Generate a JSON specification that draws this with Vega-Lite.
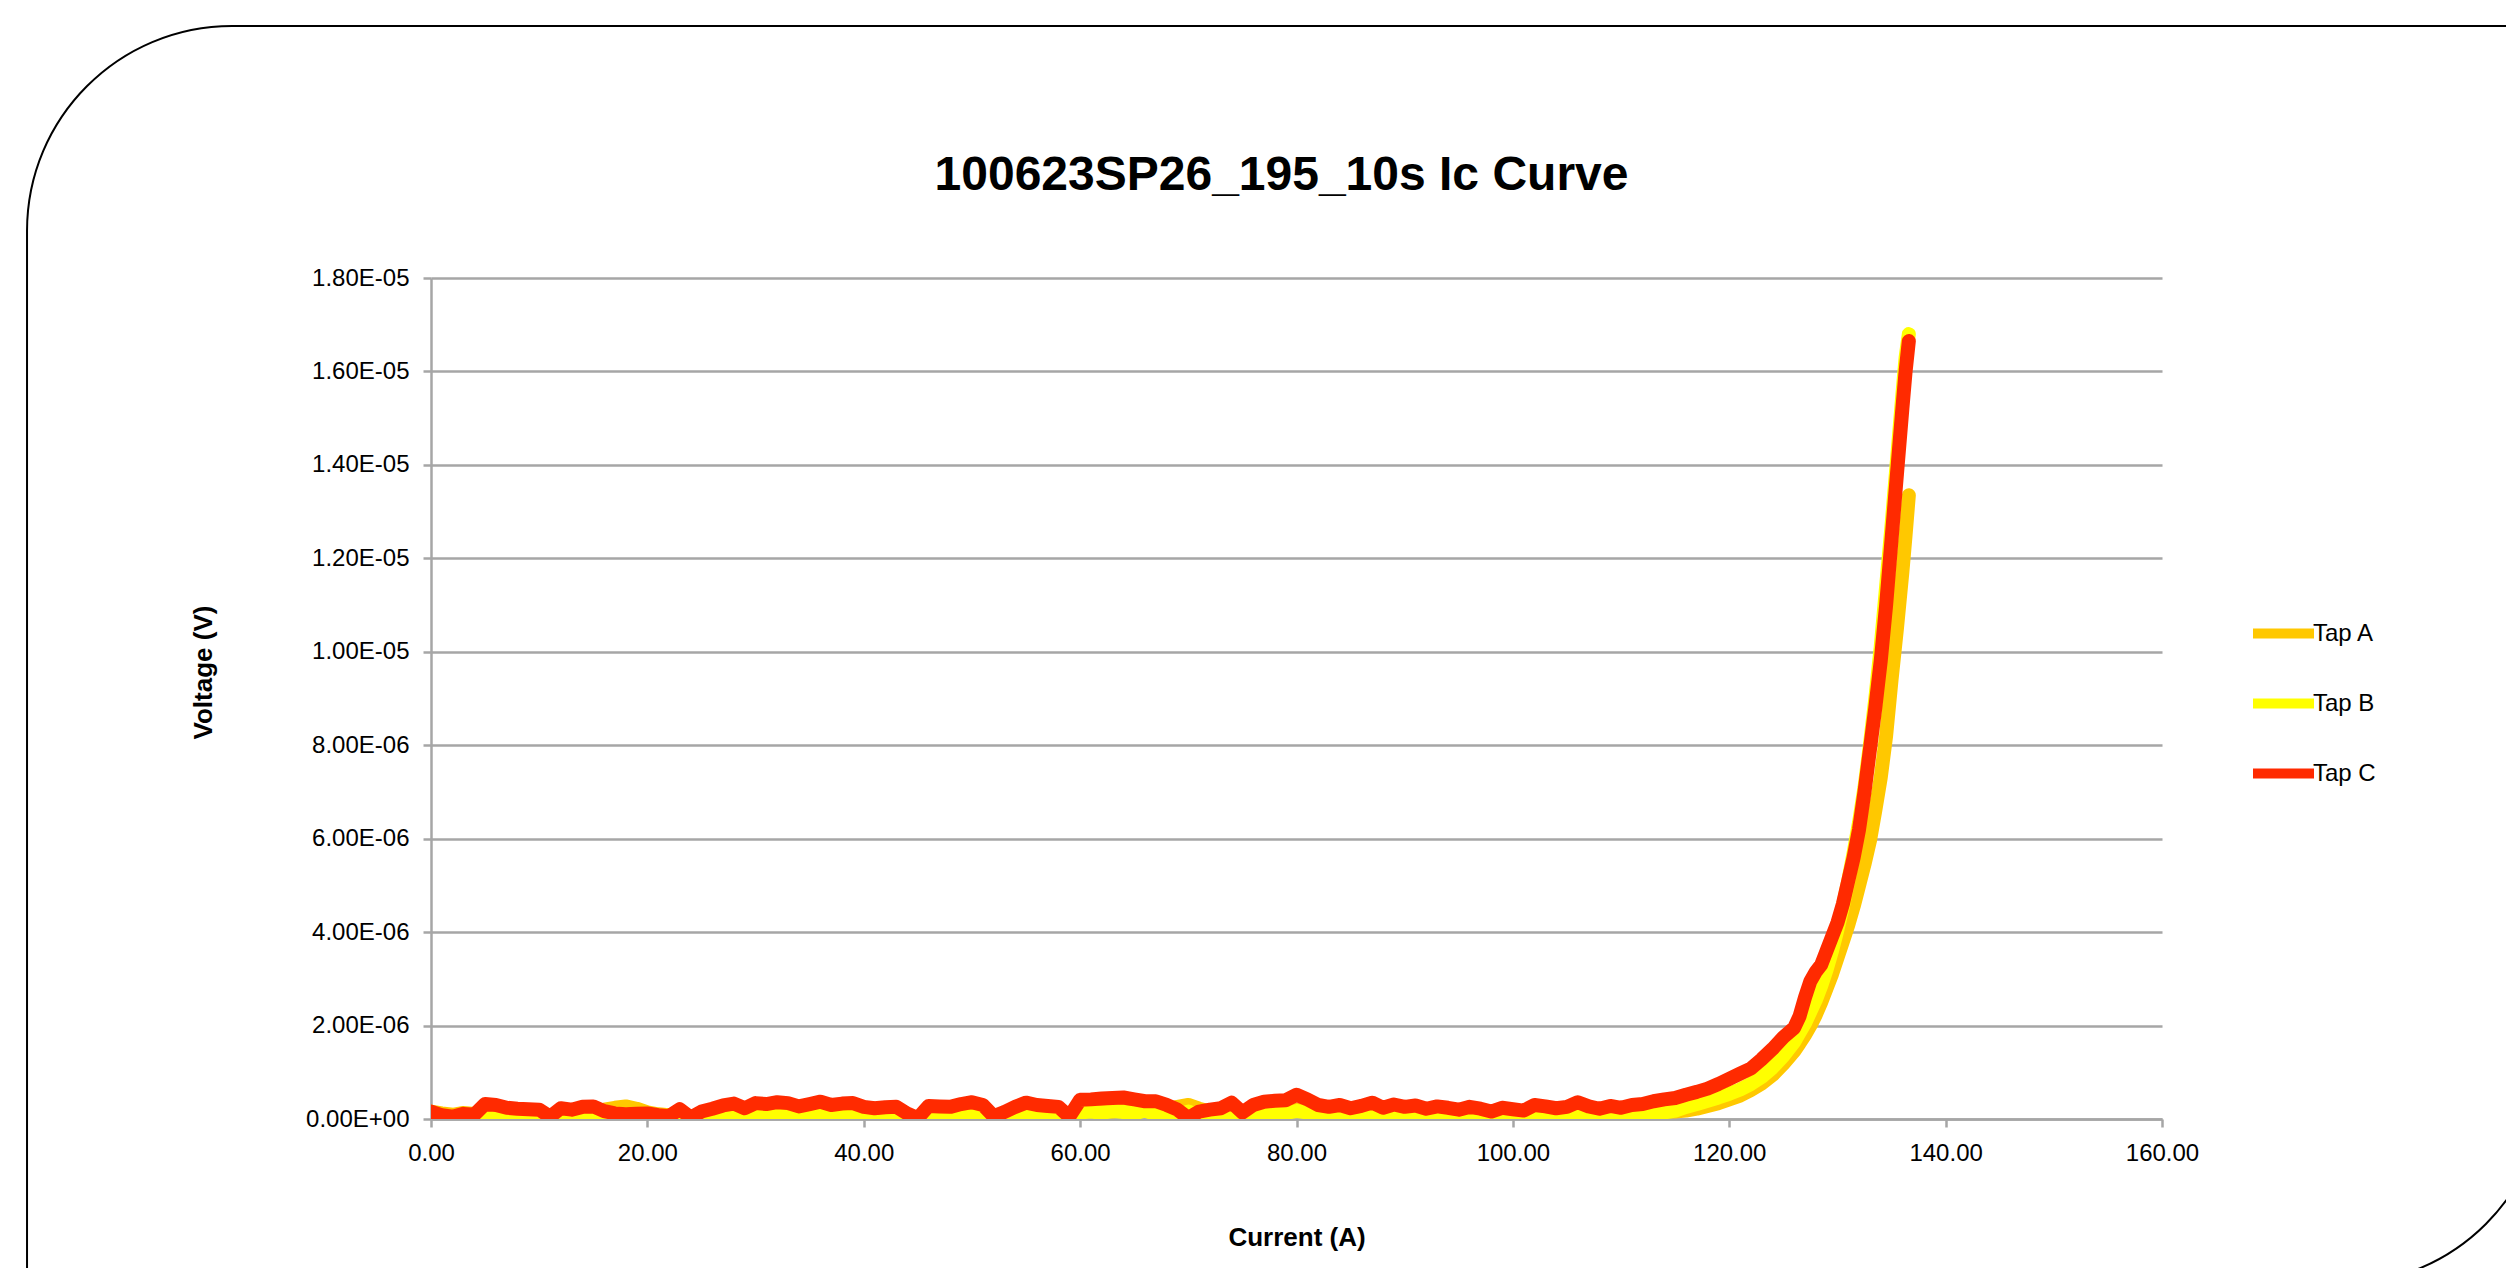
{
"$schema":"https://vega.github.io/schema/vega-lite/v6.json",
"width":1731,"height":841,
"autosize":{"type":"none"},
"padding":{"left":431,"top":278,"right":344,"bottom":149},
"background":"white",
"config":{"view":{"stroke":null},"font":"Liberation Sans"},
"title":{"text":"100623SP26_195_10s Ic Curve","font":"Liberation Sans","fontSize":48,"fontWeight":"bold","color":"black","anchor":"middle","frame":"bounds","baseline":"alphabetic","offset":-213,"dx":-5},
"data":{"values":[
{"I":0,"tap":"Tap A","V":1.6e-7},{"I":1,"tap":"Tap A","V":1.2e-7},{"I":2,"tap":"Tap A","V":0.9e-7},{"I":3,"tap":"Tap A","V":1.3e-7},{"I":4,"tap":"Tap A","V":1.1e-7},{"I":5,"tap":"Tap A","V":1.8e-7},{"I":6,"tap":"Tap A","V":1.6e-7},{"I":7,"tap":"Tap A","V":1.2e-7},{"I":8,"tap":"Tap A","V":1.5e-7},{"I":9,"tap":"Tap A","V":1.3e-7},
{"I":10,"tap":"Tap A","V":1.4e-7},{"I":11,"tap":"Tap A","V":0.5e-7},{"I":12,"tap":"Tap A","V":1.4e-7},{"I":13,"tap":"Tap A","V":1.7e-7},{"I":14,"tap":"Tap A","V":1.3e-7},{"I":15,"tap":"Tap A","V":1.8e-7},{"I":16,"tap":"Tap A","V":2.0e-7},{"I":17,"tap":"Tap A","V":2.4e-7},{"I":18,"tap":"Tap A","V":2.7e-7},{"I":19,"tap":"Tap A","V":2.2e-7},
{"I":20,"tap":"Tap A","V":1.4e-7},{"I":21,"tap":"Tap A","V":1.0e-7},{"I":22,"tap":"Tap A","V":0.8e-7},{"I":23,"tap":"Tap A","V":1.2e-7},{"I":24,"tap":"Tap A","V":0.5e-7},{"I":25,"tap":"Tap A","V":1.0e-7},{"I":26,"tap":"Tap A","V":1.5e-7},{"I":27,"tap":"Tap A","V":1.3e-7},{"I":28,"tap":"Tap A","V":1.6e-7},{"I":29,"tap":"Tap A","V":1.4e-7},
{"I":30,"tap":"Tap A","V":1.2e-7},{"I":31,"tap":"Tap A","V":1.8e-7},{"I":32,"tap":"Tap A","V":1.5e-7},{"I":33,"tap":"Tap A","V":1.2e-7},{"I":34,"tap":"Tap A","V":1.6e-7},{"I":35,"tap":"Tap A","V":1.4e-7},{"I":36,"tap":"Tap A","V":1.1e-7},{"I":37,"tap":"Tap A","V":1.5e-7},{"I":38,"tap":"Tap A","V":1.3e-7},{"I":39,"tap":"Tap A","V":1.6e-7},
{"I":40,"tap":"Tap A","V":1.2e-7},{"I":41,"tap":"Tap A","V":0.9e-7},{"I":42,"tap":"Tap A","V":1.3e-7},{"I":43,"tap":"Tap A","V":1.5e-7},{"I":44,"tap":"Tap A","V":0.8e-7},{"I":45,"tap":"Tap A","V":0.3e-7},{"I":46,"tap":"Tap A","V":1.2e-7},{"I":47,"tap":"Tap A","V":1.5e-7},{"I":48,"tap":"Tap A","V":1.0e-7},{"I":49,"tap":"Tap A","V":1.3e-7},
{"I":50,"tap":"Tap A","V":1.6e-7},{"I":51,"tap":"Tap A","V":1.2e-7},{"I":52,"tap":"Tap A","V":0.4e-7},{"I":53,"tap":"Tap A","V":1.0e-7},{"I":54,"tap":"Tap A","V":1.3e-7},{"I":55,"tap":"Tap A","V":1.5e-7},{"I":56,"tap":"Tap A","V":1.1e-7},{"I":57,"tap":"Tap A","V":1.4e-7},{"I":58,"tap":"Tap A","V":1.2e-7},{"I":59,"tap":"Tap A","V":0.2e-7},
{"I":60,"tap":"Tap A","V":1.8e-7},{"I":61,"tap":"Tap A","V":2.2e-7},{"I":62,"tap":"Tap A","V":1.9e-7},{"I":63,"tap":"Tap A","V":1.6e-7},{"I":64,"tap":"Tap A","V":2.4e-7},{"I":65,"tap":"Tap A","V":2.2e-7},{"I":66,"tap":"Tap A","V":2.6e-7},{"I":67,"tap":"Tap A","V":2.4e-7},{"I":68,"tap":"Tap A","V":2.0e-7},{"I":69,"tap":"Tap A","V":2.6e-7},
{"I":70,"tap":"Tap A","V":3.0e-7},{"I":71,"tap":"Tap A","V":2.2e-7},{"I":72,"tap":"Tap A","V":1.6e-7},{"I":73,"tap":"Tap A","V":1.4e-7},{"I":74,"tap":"Tap A","V":1.8e-7},{"I":75,"tap":"Tap A","V":1.2e-7},{"I":76,"tap":"Tap A","V":1.2e-7},{"I":77,"tap":"Tap A","V":1.6e-7},{"I":78,"tap":"Tap A","V":1.9e-7},{"I":79,"tap":"Tap A","V":1.4e-7},
{"I":80,"tap":"Tap A","V":2.0e-7},{"I":81,"tap":"Tap A","V":1.6e-7},{"I":82,"tap":"Tap A","V":1.3e-7},{"I":83,"tap":"Tap A","V":1.5e-7},{"I":84,"tap":"Tap A","V":1.1e-7},{"I":85,"tap":"Tap A","V":1.4e-7},{"I":86,"tap":"Tap A","V":1.6e-7},{"I":87,"tap":"Tap A","V":1.2e-7},{"I":88,"tap":"Tap A","V":1.5e-7},{"I":89,"tap":"Tap A","V":1.0e-7},
{"I":90,"tap":"Tap A","V":1.4e-7},{"I":91,"tap":"Tap A","V":1.2e-7},{"I":92,"tap":"Tap A","V":1.6e-7},{"I":93,"tap":"Tap A","V":1.1e-7},{"I":94,"tap":"Tap A","V":1.3e-7},{"I":95,"tap":"Tap A","V":1.5e-7},{"I":96,"tap":"Tap A","V":1.0e-7},{"I":97,"tap":"Tap A","V":1.3e-7},{"I":98,"tap":"Tap A","V":1.1e-7},{"I":99,"tap":"Tap A","V":1.4e-7},
{"I":100,"tap":"Tap A","V":1.2e-7},{"I":101,"tap":"Tap A","V":1.5e-7},{"I":102,"tap":"Tap A","V":1.0e-7},{"I":103,"tap":"Tap A","V":1.3e-7},{"I":104,"tap":"Tap A","V":1.6e-7},{"I":105,"tap":"Tap A","V":1.2e-7},{"I":106,"tap":"Tap A","V":1.4e-7},{"I":107,"tap":"Tap A","V":1.1e-7},{"I":108,"tap":"Tap A","V":1.3e-7},{"I":109,"tap":"Tap A","V":1.0e-7},
{"I":110,"tap":"Tap A","V":1.4e-7},{"I":111,"tap":"Tap A","V":1.2e-7},{"I":112,"tap":"Tap A","V":1.5e-7},{"I":113,"tap":"Tap A","V":1.3e-7},{"I":114,"tap":"Tap A","V":1.6e-7},{"I":115,"tap":"Tap A","V":1.6e-7},{"I":116,"tap":"Tap A","V":1.8e-7},{"I":117,"tap":"Tap A","V":2.2e-7},{"I":118,"tap":"Tap A","V":2.8e-7},{"I":119,"tap":"Tap A","V":3.4e-7},
{"I":120,"tap":"Tap A","V":4.2e-7},{"I":121,"tap":"Tap A","V":5.0e-7},{"I":122,"tap":"Tap A","V":6.2e-7},{"I":123,"tap":"Tap A","V":7.6e-7},{"I":124,"tap":"Tap A","V":9.4e-7},{"I":125,"tap":"Tap A","V":11.8e-7},{"I":126,"tap":"Tap A","V":14.5e-7},{"I":126.5,"tap":"Tap A","V":16.2e-7},{"I":127,"tap":"Tap A","V":18e-7},{"I":127.5,"tap":"Tap A","V":20e-7},
{"I":128,"tap":"Tap A","V":22.3e-7},{"I":128.5,"tap":"Tap A","V":25e-7},{"I":129,"tap":"Tap A","V":28e-7},{"I":129.5,"tap":"Tap A","V":31e-7},{"I":130,"tap":"Tap A","V":34.5e-7},{"I":130.5,"tap":"Tap A","V":38e-7},{"I":131,"tap":"Tap A","V":41.5e-7},{"I":131.5,"tap":"Tap A","V":45.5e-7},{"I":132,"tap":"Tap A","V":50e-7},{"I":132.5,"tap":"Tap A","V":54.5e-7},
{"I":133,"tap":"Tap A","V":59.5e-7},{"I":133.5,"tap":"Tap A","V":66e-7},{"I":134,"tap":"Tap A","V":73e-7},{"I":134.5,"tap":"Tap A","V":82e-7},{"I":135,"tap":"Tap A","V":94e-7},{"I":135.5,"tap":"Tap A","V":105e-7},{"I":136,"tap":"Tap A","V":117e-7},{"I":136.3,"tap":"Tap A","V":125e-7},{"I":136.6,"tap":"Tap A","V":133.5e-7},

{"I":0,"tap":"Tap B","V":0.5e-7},{"I":1,"tap":"Tap B","V":-0.3e-7},{"I":2,"tap":"Tap B","V":0.2e-7},{"I":3,"tap":"Tap B","V":0.0},{"I":4,"tap":"Tap B","V":0.6e-7},{"I":5,"tap":"Tap B","V":1.2e-7},{"I":6,"tap":"Tap B","V":0.8e-7},{"I":7,"tap":"Tap B","V":0.4e-7},{"I":8,"tap":"Tap B","V":0.9e-7},{"I":9,"tap":"Tap B","V":0.3e-7},
{"I":10,"tap":"Tap B","V":0.7e-7},{"I":11,"tap":"Tap B","V":-0.3e-7},{"I":12,"tap":"Tap B","V":0.5e-7},{"I":13,"tap":"Tap B","V":0.9e-7},{"I":14,"tap":"Tap B","V":0.4e-7},{"I":15,"tap":"Tap B","V":1.0e-7},{"I":16,"tap":"Tap B","V":0.6e-7},{"I":17,"tap":"Tap B","V":1.2e-7},{"I":18,"tap":"Tap B","V":1.0e-7},{"I":19,"tap":"Tap B","V":0.5e-7},
{"I":20,"tap":"Tap B","V":0.2e-7},{"I":21,"tap":"Tap B","V":-0.2e-7},{"I":22,"tap":"Tap B","V":0.0},{"I":23,"tap":"Tap B","V":0.4e-7},{"I":24,"tap":"Tap B","V":-0.5e-7},{"I":25,"tap":"Tap B","V":-0.3e-7},{"I":26,"tap":"Tap B","V":0.5e-7},{"I":27,"tap":"Tap B","V":1.0e-7},{"I":28,"tap":"Tap B","V":0.8e-7},{"I":29,"tap":"Tap B","V":0.6e-7},
{"I":30,"tap":"Tap B","V":1.2e-7},{"I":31,"tap":"Tap B","V":0.9e-7},{"I":32,"tap":"Tap B","V":1.3e-7},{"I":33,"tap":"Tap B","V":0.8e-7},{"I":34,"tap":"Tap B","V":1.1e-7},{"I":35,"tap":"Tap B","V":1.4e-7},{"I":36,"tap":"Tap B","V":0.9e-7},{"I":37,"tap":"Tap B","V":0.7e-7},{"I":38,"tap":"Tap B","V":1.1e-7},{"I":39,"tap":"Tap B","V":0.6e-7},
{"I":40,"tap":"Tap B","V":0.8e-7},{"I":41,"tap":"Tap B","V":0.5e-7},{"I":42,"tap":"Tap B","V":0.2e-7},{"I":43,"tap":"Tap B","V":0.9e-7},{"I":44,"tap":"Tap B","V":0.2e-7},{"I":45,"tap":"Tap B","V":-0.5e-7},{"I":46,"tap":"Tap B","V":1.0e-7},{"I":47,"tap":"Tap B","V":0.5e-7},{"I":48,"tap":"Tap B","V":0.9e-7},{"I":49,"tap":"Tap B","V":0.7e-7},
{"I":50,"tap":"Tap B","V":0.4e-7},{"I":51,"tap":"Tap B","V":0.8e-7},{"I":52,"tap":"Tap B","V":-0.5e-7},{"I":53,"tap":"Tap B","V":0.6e-7},{"I":54,"tap":"Tap B","V":0.3e-7},{"I":55,"tap":"Tap B","V":0.8e-7},{"I":56,"tap":"Tap B","V":1.1e-7},{"I":57,"tap":"Tap B","V":0.6e-7},{"I":58,"tap":"Tap B","V":0.8e-7},{"I":59,"tap":"Tap B","V":-0.8e-7},
{"I":60,"tap":"Tap B","V":1.4e-7},{"I":61,"tap":"Tap B","V":1.6e-7},{"I":62,"tap":"Tap B","V":1.3e-7},{"I":63,"tap":"Tap B","V":1.7e-7},{"I":64,"tap":"Tap B","V":1.5e-7},{"I":65,"tap":"Tap B","V":1.2e-7},{"I":66,"tap":"Tap B","V":1.8e-7},{"I":67,"tap":"Tap B","V":1.0e-7},{"I":68,"tap":"Tap B","V":1.3e-7},{"I":69,"tap":"Tap B","V":0.8e-7},
{"I":70,"tap":"Tap B","V":1.6e-7},{"I":71,"tap":"Tap B","V":0.6e-7},{"I":72,"tap":"Tap B","V":0.9e-7},{"I":73,"tap":"Tap B","V":0.7e-7},{"I":74,"tap":"Tap B","V":1.0e-7},{"I":75,"tap":"Tap B","V":0.2e-7},{"I":76,"tap":"Tap B","V":0.7e-7},{"I":77,"tap":"Tap B","V":1.1e-7},{"I":78,"tap":"Tap B","V":1.4e-7},{"I":79,"tap":"Tap B","V":1.3e-7},
{"I":80,"tap":"Tap B","V":1.7e-7},{"I":81,"tap":"Tap B","V":1.4e-7},{"I":82,"tap":"Tap B","V":1.0e-7},{"I":83,"tap":"Tap B","V":0.8e-7},{"I":84,"tap":"Tap B","V":1.0e-7},{"I":85,"tap":"Tap B","V":0.6e-7},{"I":86,"tap":"Tap B","V":0.9e-7},{"I":87,"tap":"Tap B","V":1.2e-7},{"I":88,"tap":"Tap B","V":0.7e-7},{"I":89,"tap":"Tap B","V":1.0e-7},
{"I":90,"tap":"Tap B","V":0.8e-7},{"I":91,"tap":"Tap B","V":1.0e-7},{"I":92,"tap":"Tap B","V":0.6e-7},{"I":93,"tap":"Tap B","V":0.9e-7},{"I":94,"tap":"Tap B","V":0.7e-7},{"I":95,"tap":"Tap B","V":0.5e-7},{"I":96,"tap":"Tap B","V":0.8e-7},{"I":97,"tap":"Tap B","V":0.6e-7},{"I":98,"tap":"Tap B","V":0.3e-7},{"I":99,"tap":"Tap B","V":0.7e-7},
{"I":100,"tap":"Tap B","V":0.5e-7},{"I":101,"tap":"Tap B","V":0.4e-7},{"I":102,"tap":"Tap B","V":0.9e-7},{"I":103,"tap":"Tap B","V":0.8e-7},{"I":104,"tap":"Tap B","V":0.6e-7},{"I":105,"tap":"Tap B","V":0.8e-7},{"I":106,"tap":"Tap B","V":1.2e-7},{"I":107,"tap":"Tap B","V":0.8e-7},{"I":108,"tap":"Tap B","V":0.6e-7},{"I":109,"tap":"Tap B","V":0.9e-7},
{"I":110,"tap":"Tap B","V":0.7e-7},{"I":111,"tap":"Tap B","V":1.0e-7},{"I":112,"tap":"Tap B","V":0.9e-7},{"I":113,"tap":"Tap B","V":1.2e-7},{"I":114,"tap":"Tap B","V":1.4e-7},{"I":115,"tap":"Tap B","V":1.8e-7},{"I":116,"tap":"Tap B","V":2.6e-7},{"I":117,"tap":"Tap B","V":3.2e-7},{"I":118,"tap":"Tap B","V":3.9e-7},{"I":119,"tap":"Tap B","V":4.6e-7},
{"I":120,"tap":"Tap B","V":5.4e-7},{"I":121,"tap":"Tap B","V":6.3e-7},{"I":122,"tap":"Tap B","V":7.5e-7},{"I":123,"tap":"Tap B","V":9.0e-7},{"I":124,"tap":"Tap B","V":11.0e-7},{"I":125,"tap":"Tap B","V":13.5e-7},{"I":126,"tap":"Tap B","V":16.5e-7},{"I":126.5,"tap":"Tap B","V":18.5e-7},{"I":127,"tap":"Tap B","V":20.5e-7},{"I":127.5,"tap":"Tap B","V":23e-7},
{"I":128,"tap":"Tap B","V":25.5e-7},{"I":128.5,"tap":"Tap B","V":28.5e-7},{"I":129,"tap":"Tap B","V":32e-7},{"I":129.5,"tap":"Tap B","V":36e-7},{"I":130,"tap":"Tap B","V":40.5e-7},{"I":130.5,"tap":"Tap B","V":45.5e-7},{"I":131,"tap":"Tap B","V":51e-7},{"I":131.5,"tap":"Tap B","V":57e-7},{"I":132,"tap":"Tap B","V":63.5e-7},{"I":132.5,"tap":"Tap B","V":71e-7},
{"I":133,"tap":"Tap B","V":80e-7},{"I":133.5,"tap":"Tap B","V":90e-7},{"I":134,"tap":"Tap B","V":101e-7},{"I":134.5,"tap":"Tap B","V":114e-7},{"I":135,"tap":"Tap B","V":127e-7},{"I":135.5,"tap":"Tap B","V":141e-7},{"I":136,"tap":"Tap B","V":155e-7},{"I":136.3,"tap":"Tap B","V":163e-7},{"I":136.6,"tap":"Tap B","V":168e-7},

{"I":0,"tap":"Tap C","V":1.6e-7},{"I":1,"tap":"Tap C","V":0.8e-7},{"I":2,"tap":"Tap C","V":0.5e-7},{"I":3,"tap":"Tap C","V":1.1e-7},{"I":4,"tap":"Tap C","V":0.9e-7},{"I":5,"tap":"Tap C","V":3.2e-7},{"I":6,"tap":"Tap C","V":3.0e-7},{"I":7,"tap":"Tap C","V":2.4e-7},{"I":8,"tap":"Tap C","V":2.2e-7},{"I":9,"tap":"Tap C","V":2.1e-7},
{"I":10,"tap":"Tap C","V":2.0e-7},{"I":11,"tap":"Tap C","V":0.5e-7},{"I":12,"tap":"Tap C","V":2.3e-7},{"I":13,"tap":"Tap C","V":2.0e-7},{"I":14,"tap":"Tap C","V":2.6e-7},{"I":15,"tap":"Tap C","V":2.7e-7},{"I":16,"tap":"Tap C","V":1.7e-7},{"I":17,"tap":"Tap C","V":1.2e-7},{"I":18,"tap":"Tap C","V":1.0e-7},{"I":19,"tap":"Tap C","V":1.1e-7},
{"I":20,"tap":"Tap C","V":1.2e-7},{"I":21,"tap":"Tap C","V":0.8e-7},{"I":22,"tap":"Tap C","V":0.6e-7},{"I":23,"tap":"Tap C","V":2.1e-7},{"I":24,"tap":"Tap C","V":0.3e-7},{"I":25,"tap":"Tap C","V":1.6e-7},{"I":26,"tap":"Tap C","V":2.2e-7},{"I":27,"tap":"Tap C","V":2.9e-7},{"I":28,"tap":"Tap C","V":3.3e-7},{"I":29,"tap":"Tap C","V":2.3e-7},
{"I":30,"tap":"Tap C","V":3.4e-7},{"I":31,"tap":"Tap C","V":3.2e-7},{"I":32,"tap":"Tap C","V":3.6e-7},{"I":33,"tap":"Tap C","V":3.4e-7},{"I":34,"tap":"Tap C","V":2.7e-7},{"I":35,"tap":"Tap C","V":3.2e-7},{"I":36,"tap":"Tap C","V":3.7e-7},{"I":37,"tap":"Tap C","V":3.0e-7},{"I":38,"tap":"Tap C","V":3.3e-7},{"I":39,"tap":"Tap C","V":3.4e-7},
{"I":40,"tap":"Tap C","V":2.6e-7},{"I":41,"tap":"Tap C","V":2.3e-7},{"I":42,"tap":"Tap C","V":2.5e-7},{"I":43,"tap":"Tap C","V":2.6e-7},{"I":44,"tap":"Tap C","V":1.2e-7},{"I":45,"tap":"Tap C","V":0.2e-7},{"I":46,"tap":"Tap C","V":2.8e-7},{"I":47,"tap":"Tap C","V":2.7e-7},{"I":48,"tap":"Tap C","V":2.6e-7},{"I":49,"tap":"Tap C","V":3.2e-7},
{"I":50,"tap":"Tap C","V":3.6e-7},{"I":51,"tap":"Tap C","V":3.0e-7},{"I":52,"tap":"Tap C","V":0.6e-7},{"I":53,"tap":"Tap C","V":1.5e-7},{"I":54,"tap":"Tap C","V":2.6e-7},{"I":55,"tap":"Tap C","V":3.5e-7},{"I":56,"tap":"Tap C","V":3.0e-7},{"I":57,"tap":"Tap C","V":2.8e-7},{"I":58,"tap":"Tap C","V":2.6e-7},{"I":59,"tap":"Tap C","V":0.5e-7},
{"I":60,"tap":"Tap C","V":4.1e-7},{"I":61,"tap":"Tap C","V":4.2e-7},{"I":62,"tap":"Tap C","V":4.4e-7},{"I":63,"tap":"Tap C","V":4.5e-7},{"I":64,"tap":"Tap C","V":4.6e-7},{"I":65,"tap":"Tap C","V":4.2e-7},{"I":66,"tap":"Tap C","V":3.8e-7},{"I":67,"tap":"Tap C","V":3.8e-7},{"I":68,"tap":"Tap C","V":3.0e-7},{"I":69,"tap":"Tap C","V":2.0e-7},
{"I":70,"tap":"Tap C","V":0.2e-7},{"I":71,"tap":"Tap C","V":1.6e-7},{"I":72,"tap":"Tap C","V":2.0e-7},{"I":73,"tap":"Tap C","V":2.3e-7},{"I":74,"tap":"Tap C","V":3.5e-7},{"I":75,"tap":"Tap C","V":1.4e-7},{"I":76,"tap":"Tap C","V":3.0e-7},{"I":77,"tap":"Tap C","V":3.7e-7},{"I":78,"tap":"Tap C","V":3.9e-7},{"I":79,"tap":"Tap C","V":4.0e-7},
{"I":80,"tap":"Tap C","V":5.2e-7},{"I":81,"tap":"Tap C","V":4.2e-7},{"I":82,"tap":"Tap C","V":3.0e-7},{"I":83,"tap":"Tap C","V":2.6e-7},{"I":84,"tap":"Tap C","V":3.0e-7},{"I":85,"tap":"Tap C","V":2.3e-7},{"I":86,"tap":"Tap C","V":2.8e-7},{"I":87,"tap":"Tap C","V":3.5e-7},{"I":88,"tap":"Tap C","V":2.4e-7},{"I":89,"tap":"Tap C","V":3.1e-7},
{"I":90,"tap":"Tap C","V":2.6e-7},{"I":91,"tap":"Tap C","V":2.9e-7},{"I":92,"tap":"Tap C","V":2.2e-7},{"I":93,"tap":"Tap C","V":2.7e-7},{"I":94,"tap":"Tap C","V":2.4e-7},{"I":95,"tap":"Tap C","V":2.0e-7},{"I":96,"tap":"Tap C","V":2.6e-7},{"I":97,"tap":"Tap C","V":2.2e-7},{"I":98,"tap":"Tap C","V":1.6e-7},{"I":99,"tap":"Tap C","V":2.4e-7},
{"I":100,"tap":"Tap C","V":2.1e-7},{"I":101,"tap":"Tap C","V":1.8e-7},{"I":102,"tap":"Tap C","V":3.0e-7},{"I":103,"tap":"Tap C","V":2.7e-7},{"I":104,"tap":"Tap C","V":2.3e-7},{"I":105,"tap":"Tap C","V":2.6e-7},{"I":106,"tap":"Tap C","V":3.6e-7},{"I":107,"tap":"Tap C","V":2.7e-7},{"I":108,"tap":"Tap C","V":2.2e-7},{"I":109,"tap":"Tap C","V":2.8e-7},
{"I":110,"tap":"Tap C","V":2.4e-7},{"I":111,"tap":"Tap C","V":3.0e-7},{"I":112,"tap":"Tap C","V":3.2e-7},{"I":113,"tap":"Tap C","V":3.8e-7},{"I":114,"tap":"Tap C","V":4.2e-7},{"I":115,"tap":"Tap C","V":4.5e-7},{"I":116,"tap":"Tap C","V":5.2e-7},{"I":117,"tap":"Tap C","V":5.8e-7},{"I":118,"tap":"Tap C","V":6.5e-7},{"I":119,"tap":"Tap C","V":7.5e-7},
{"I":120,"tap":"Tap C","V":8.6e-7},{"I":121,"tap":"Tap C","V":9.7e-7},{"I":122,"tap":"Tap C","V":10.8e-7},{"I":123,"tap":"Tap C","V":12.8e-7},{"I":124,"tap":"Tap C","V":15.0e-7},{"I":125,"tap":"Tap C","V":17.5e-7},{"I":126,"tap":"Tap C","V":19.5e-7},{"I":126.5,"tap":"Tap C","V":22e-7},{"I":127,"tap":"Tap C","V":26e-7},{"I":127.5,"tap":"Tap C","V":29.5e-7},
{"I":128,"tap":"Tap C","V":31.5e-7},{"I":128.5,"tap":"Tap C","V":33e-7},{"I":129,"tap":"Tap C","V":36e-7},{"I":129.5,"tap":"Tap C","V":39e-7},{"I":130,"tap":"Tap C","V":42e-7},{"I":130.5,"tap":"Tap C","V":46e-7},{"I":131,"tap":"Tap C","V":51e-7},{"I":131.5,"tap":"Tap C","V":56e-7},{"I":132,"tap":"Tap C","V":62e-7},{"I":132.5,"tap":"Tap C","V":70e-7},
{"I":133,"tap":"Tap C","V":79e-7},{"I":133.5,"tap":"Tap C","V":88e-7},{"I":134,"tap":"Tap C","V":98e-7},{"I":134.5,"tap":"Tap C","V":110e-7},{"I":135,"tap":"Tap C","V":124e-7},{"I":135.5,"tap":"Tap C","V":138e-7},{"I":136,"tap":"Tap C","V":152e-7},{"I":136.3,"tap":"Tap C","V":160e-7},{"I":136.6,"tap":"Tap C","V":166.5e-7}
]},
"layer":[
{"mark":{"type":"line","strokeWidth":14,"strokeCap":"round","strokeJoin":"round","clip":true},
 "encoding":{
  "x":{"field":"I","type":"quantitative","title":"Current (A)",
   "scale":{"domain":[0,160],"nice":false,"zero":false},
   "axis":{"values":[0,20,40,60,80,100,120,140,160],"format":".2f","grid":false,
    "domainColor":"#a6a6a6","domainWidth":2.5,"tickColor":"#a6a6a6","tickWidth":2.5,"tickSize":8,
    "labelFont":"Liberation Sans","labelFontSize":24,"labelColor":"black","labelPadding":14,"labelFlush":false,"labelOverlap":false,
    "titleFont":"Liberation Sans","titleFontSize":26,"titleFontWeight":"bold","titleColor":"black","titlePadding":59}},
  "y":{"field":"V","type":"quantitative","title":"Voltage (V)",
   "scale":{"domain":[0,1.8e-5],"nice":false,"zero":false},
   "axis":{"values":[0,2e-6,4e-6,6e-6,8e-6,1e-5,1.2e-5,1.4e-5,1.6e-5,1.8e-5],
    "labelExpr":"datum.value == 0 ? '0.00E+00' : format(datum.value / pow(10, floor(log(datum.value) / LN10 + 1e-9)), '.2f') + 'E-' + (abs(floor(log(datum.value) / LN10 + 1e-9)) < 10 ? '0' : '') + abs(floor(log(datum.value) / LN10 + 1e-9))",
    "grid":true,"gridColor":"#a6a6a6","gridWidth":2.5,
    "domainColor":"#a6a6a6","domainWidth":2.5,"tickColor":"#a6a6a6","tickWidth":2.5,"tickSize":8,
    "labelFont":"Liberation Sans","labelFontSize":24,"labelColor":"black","labelPadding":14,"labelFlush":false,"labelOverlap":false,
    "titleFont":"Liberation Sans","titleFontSize":26,"titleFontWeight":"bold","titleColor":"black","titlePadding":89,"titleY":394}},
  "color":{"field":"tap","type":"nominal",
   "scale":{"domain":["Tap A","Tap B","Tap C"],"range":["#FFC800","#FFFF00","#FF2A00"]},
   "legend":{"orient":"none","legendX":1817,"legendY":320,"title":null,"symbolType":"stroke","symbolSize":3721,"symbolStrokeWidth":10,
    "labelFont":"Liberation Sans","labelFontSize":24,"labelColor":"black","labelOffset":-6,"rowPadding":14,"padding":0}}
 }},
{"data":{"values":[{}]},
 "mark":{"type":"rect","filled":false,"stroke":"black","strokeWidth":2,"cornerRadiusTopLeft":205,"cornerRadiusBottomRight":205,"clip":false},
 "encoding":{
  "x":{"datum":-37.34,"type":"quantitative"},
  "x2":{"datum":195.49},
  "y":{"datum":2.3394e-5,"type":"quantitative"},
  "y2":{"datum":-3.5315e-6}
 }}
]
}
